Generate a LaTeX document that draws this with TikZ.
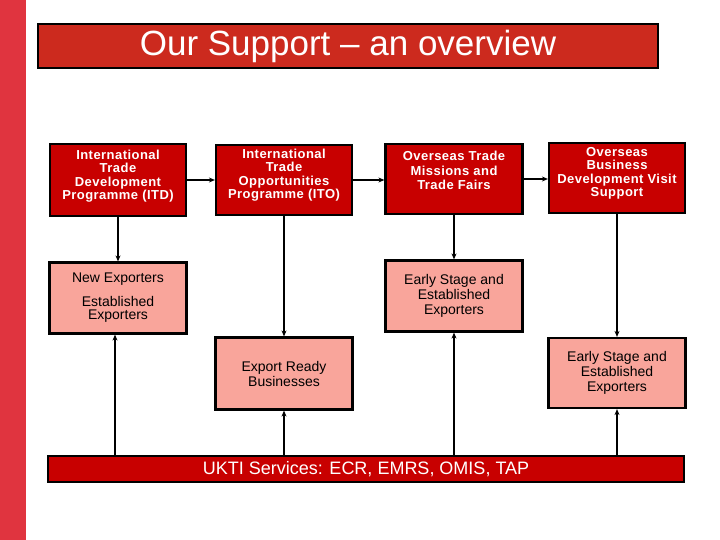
\documentclass[tikz,border=0pt]{standalone}
\usepackage{fontspec}
\setmainfont{Liberation Sans}
\newfontfamily\darkfont[LetterSpace=3.5]{Liberation Sans}
\usetikzlibrary{arrows.meta}
\definecolor{leftbar}{HTML}{E0343F}
\definecolor{titlered}{HTML}{CC2A1E}
\definecolor{boxred}{HTML}{C80000}
\definecolor{boxpink}{HTML}{F9A59B}
\newcommand{\bxt}[4]{\parbox[c][#1][c]{#2}{\centering #4\par\vspace*{#3}}}
\begin{document}
\begin{tikzpicture}[x=1pt,y=-1pt,
  darkbox/.style={draw=black,line width=2.2pt,fill=boxred,inner sep=0pt,text=white,
    font=\darkfont\bfseries\fontsize{13}{13.4}\selectfont},
  pinkbox/.style={draw=black,line width=2.2pt,fill=boxpink,inner sep=0pt,text=black,
    font=\fontsize{14}{15}\selectfont},
  arr/.style={line width=2pt,-{Stealth[length=6pt,width=5pt]}}]
\useasboundingbox (0,0) rectangle (720,540);
\fill[leftbar] (0,0) rectangle (26,540);
\node[draw=black,line width=1.8pt,fill=titlered,minimum width=620pt,minimum height=44pt,
  inner sep=0pt,text=white,font=\fontsize{35}{40}\selectfont] (title) at (348,46)
  {Our Support – an overview};
% dark boxes
\node[darkbox] (itd) at (118,180)
  {\bxt{72pt}{136pt}{8pt}{International\\Trade\\Development\\Programme (ITD)}};
\node[darkbox] (ito) at (284,180)
  {\bxt{70pt}{136pt}{10pt}{International\\Trade\\Opportunities\\Programme (ITO)}};
\node[darkbox] (otm) at (454,179)
  {\bxt{70pt}{137pt}{17pt}{\fontsize{13}{14.6}\selectfont Overseas Trade\\Missions and\\Trade Fairs}};
\node[darkbox] (obdv) at (617,178)
  {\bxt{70pt}{136pt}{9pt}{Overseas\\Business\\Development Visit\\Support}};
% pink boxes
\node[pinkbox] (ne) at (118,298)
  {\bxt{71pt}{137pt}{0pt}{\fontsize{14}{13}\selectfont New Exporters\\[10pt]Established\\Exporters}};
\node[pinkbox] (es1) at (454,296)
  {\bxt{71pt}{137pt}{0pt}{Early Stage and\\Established\\Exporters}};
\node[pinkbox] (er) at (284,373.5)
  {\bxt{72pt}{137pt}{0pt}{Export Ready\\Businesses}};
\node[pinkbox] (es2) at (617,373)
  {\bxt{70pt}{137pt}{0pt}{Early Stage and\\Established\\Exporters}};
% services bar
\node[draw=black,line width=1.8pt,fill=boxred,minimum width=636pt,minimum height=26pt,
  inner sep=0pt,text=white,font=\fontsize{18}{20}\selectfont] (ukti) at (366,469)
  {UKTI Services: ECR, EMRS, OMIS, TAP};
% connectors
\draw[arr] (itd.east) -- (itd.east -| ito.west);
\draw[arr] (ito.east) -- (ito.east -| otm.west);
\draw[arr] (otm.east) -- (otm.east -| obdv.west);
\draw[arr] (itd.south) -- (itd.south |- ne.north);
\draw[arr] (ito.south) -- (ito.south |- er.north);
\draw[arr] (otm.south) -- (otm.south |- es1.north);
\draw[arr] (obdv.south) -- (obdv.south |- es2.north);
\draw[arr] ([xshift=-3pt]ne.south |- ukti.north) -- ([xshift=-3pt]ne.south);
\draw[arr] (er.south |- ukti.north) -- (er.south);
\draw[arr] (es1.south |- ukti.north) -- (es1.south);
\draw[arr] (es2.south |- ukti.north) -- (es2.south);
\end{tikzpicture}
\end{document}
